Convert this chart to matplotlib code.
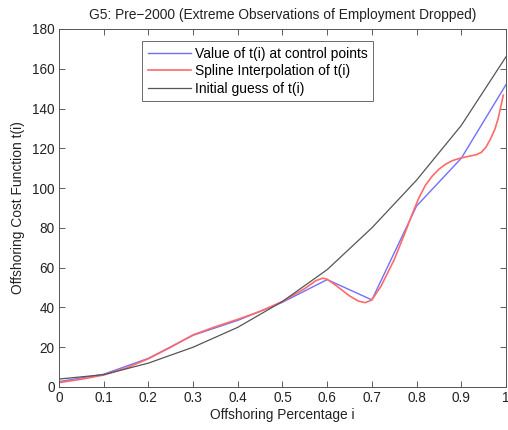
import matplotlib
matplotlib.use("Agg")
import matplotlib.pyplot as plt

plt.rcParams['font.family'] = ['Liberation Sans', 'DejaVu Sans']

# Control points (blue)
ctrl_x = [0.0, 0.1, 0.2, 0.3, 0.4, 0.5, 0.6, 0.7, 0.8, 0.9, 1.0]
ctrl_y = [2.7, 6.4, 14.4, 26.0, 33.5, 42.6, 54.0, 43.8, 91.0, 115.0, 152.0]

# Spline interpolation (red)
spl_x = [0.0, 0.05, 0.1, 0.15, 0.2, 0.25, 0.3, 0.35, 0.4, 0.45, 0.5, 0.55, 0.575,
         0.59, 0.6, 0.62, 0.65, 0.67, 0.685, 0.7, 0.72, 0.75, 0.775, 0.793, 0.805,
         0.82, 0.835, 0.85, 0.865, 0.88, 0.897, 0.915, 0.934, 0.945, 0.955, 0.965,
         0.975, 0.982, 0.988, 0.994]
spl_y = [2.2, 3.9, 6.0, 9.5, 14.2, 20.0, 26.2, 30.3, 34.0, 38.0, 43.0, 49.5, 53.5,
         54.7, 54.2, 51.0, 45.8, 43.2, 42.4, 43.8, 50.5, 64.0, 78.0, 88.5, 95.0,
         101.5, 106.0, 109.5, 112.0, 113.8, 115.0, 115.9, 116.8, 118.0, 120.5, 124.5,
         129.5, 134.5, 140.5, 146.7]

# Initial guess (black)
init_x = [0.0, 0.1, 0.2, 0.3, 0.4, 0.5, 0.6, 0.7, 0.8, 0.9, 1.0]
init_y = [4.0, 6.2, 12.0, 20.0, 30.0, 43.0, 59.0, 80.0, 104.0, 131.5, 166.0]

fig = plt.figure(figsize=(5.08, 4.30), dpi=100)
ax = fig.add_axes([0.116, 0.1, 0.880, 0.8326])

ax.plot(ctrl_x, ctrl_y, color='#7070ff', lw=1.0, label='Value of t(i) at control points')
ax.plot(spl_x, spl_y, color='#ff6a6a', lw=1.2, label='Spline Interpolation of t(i)')
ax.plot(init_x, init_y, color='#555555', lw=0.9, label='Initial guess of t(i)')

ax.set_xlim(0, 1)
ax.set_ylim(0, 180)
ax.set_xticks([0, 0.1, 0.2, 0.3, 0.4, 0.5, 0.6, 0.7, 0.8, 0.9, 1])
ax.set_xticklabels(['0', '0.1', '0.2', '0.3', '0.4', '0.5', '0.6', '0.7', '0.8', '0.9', '1'])
ax.set_yticks(range(0, 181, 20))
ax.tick_params(direction='in', top=True, right=True, labelsize=9.8, length=4,
               color='#444444', labelcolor='#222222', width=0.6, pad=3)
for s in ax.spines.values():
    s.set_color('#555555')
    s.set_linewidth(0.7)

ax.set_title('G5: Pre\u22122000 (Extreme Observations of Employment Dropped)',
             fontsize=9.9, color='#222222', pad=7)
ax.set_xlabel('Offshoring Percentage i', fontsize=9.9, color='#222222', labelpad=2)
ax.set_ylabel('Offshoring Cost Function t(i)', fontsize=9.9, color='#222222', labelpad=5)

leg = ax.legend(loc='upper left', bbox_to_anchor=(0.186, 0.966), fontsize=10,
                frameon=True, fancybox=False, edgecolor='#444444', borderpad=0.4,
                handlelength=3.1, handletextpad=0.3, labelspacing=0.25, borderaxespad=0)
leg.get_frame().set_linewidth(0.7)

fig.savefig('out.png', dpi=100)
